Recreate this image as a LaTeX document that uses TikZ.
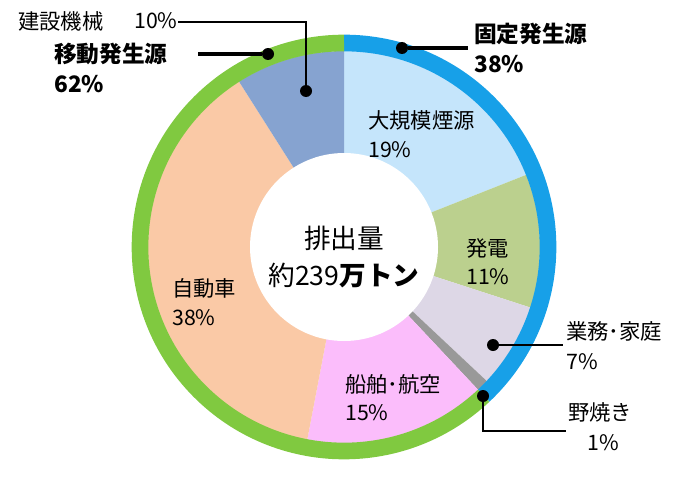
\documentclass[tikz,border=0pt]{standalone}
\usepackage{fontspec}
\usetikzlibrary{calc}
\setmainfont{Noto Sans CJK JP}
\begin{document}
\begin{tikzpicture}[x=0.75pt,y=-0.75pt,
  lab/.style={anchor=west,inner sep=0,font=\fontsize{16}{18}\selectfont},
  blab/.style={lab,font=\fontsize{17}{19}\selectfont\bfseries},
  dot/.style={circle,fill=black,inner sep=0,minimum size=9pt},
  lead/.style={line width=1.3pt}]
\useasboundingbox (0,0) rectangle (695,485);
\definecolor{cA}{HTML}{C5E5FB}\definecolor{cB}{HTML}{BBD08E}
\definecolor{cC}{HTML}{DDD7E6}\definecolor{cD}{HTML}{999999}
\definecolor{cE}{HTML}{FBBDFB}\definecolor{cF}{HTML}{FAC9A6}
\definecolor{cG}{HTML}{86A3D0}\definecolor{rB}{HTML}{17A0E8}
\definecolor{rG}{HTML}{80C940}
\coordinate (c) at (344,247);
\foreach \a/\b/\col in {0/19/cA,19/30/cB,30/37/cC,37/38/cD,38/53/cE,53/91/cF,91/100/cG}{
  \fill[\col] (c) -- ($(c)+({-90+3.6*\a}:196)$) arc ({-90+3.6*\a}:{-90+3.6*\b}:196) -- cycle;}
\draw[rB,line width=12.5pt] ($(c)+(-90:204)$) arc (-90:46.8:204);
\draw[rG,line width=12.5pt] ($(c)+(46.8:204)$) arc (46.8:270:204);
\fill[white] (c) circle (94);
\node[inner sep=0,align=center,font=\fontsize{20}{28}\selectfont] (ctr) at (344,257) {排出量\\約239\textbf{万トン}};
\node[lab] (t1) at (368,120) {大規模煙源};
\node[lab] (p1) at (368,150) {19\%};
\node[lab] (t2) at (466,248) {発電};
\node[lab] (p2) at (466,277) {11\%};
\node[lab] (t3) at (566,331) {業務･家庭};
\node[lab] (p3) at (566,362) {7\%};
\node[lab] (t4) at (568,412) {野焼き};
\node[lab] (p4) at (587,443) {1\%};
\node[lab] (t5) at (345,384) {船舶･航空};
\node[lab] (p5) at (345,413) {15\%};
\node[lab] (t6) at (172,288) {自動車};
\node[lab] (p6) at (172,318) {38\%};
\node[lab] (t7) at (18,21) {建設機械};
\node[lab] (p7) at (134,21) {10\%};
\node[blab] (t8) at (54,54) {移動発生源};
\node[blab] (p8) at (54,84) {62\%};
\node[blab] (t9) at (474,34) {固定発生源};
\node[blab] (p9) at (474,64) {38\%};
\node[dot] (d3) at (493,345) {};
\node[dot] (d4) at (483,396) {};
\node[dot] (d7) at (306,91) {};
\node[dot] (d8) at (268,54) {};
\node[dot] (d9) at (402,48) {};
\coordinate (e3) at (563,345);
\coordinate (k4) at (483,431);\coordinate (e4) at (566,431);
\coordinate (e7) at (178,22);\coordinate (k7) at (306,22);
\coordinate (e8) at (198,54);\coordinate (e9) at (468,48);
\draw[lead] (d3) -- (e3);
\draw[lead] (d4) -- (k4) -- (e4);
\draw[lead] (d7) -- (k7) -- (e7);
\draw[line width=2.6pt] (d8) -- (e8);
\draw[line width=2.6pt] (d9) -- (e9);
\end{tikzpicture}
\end{document}
